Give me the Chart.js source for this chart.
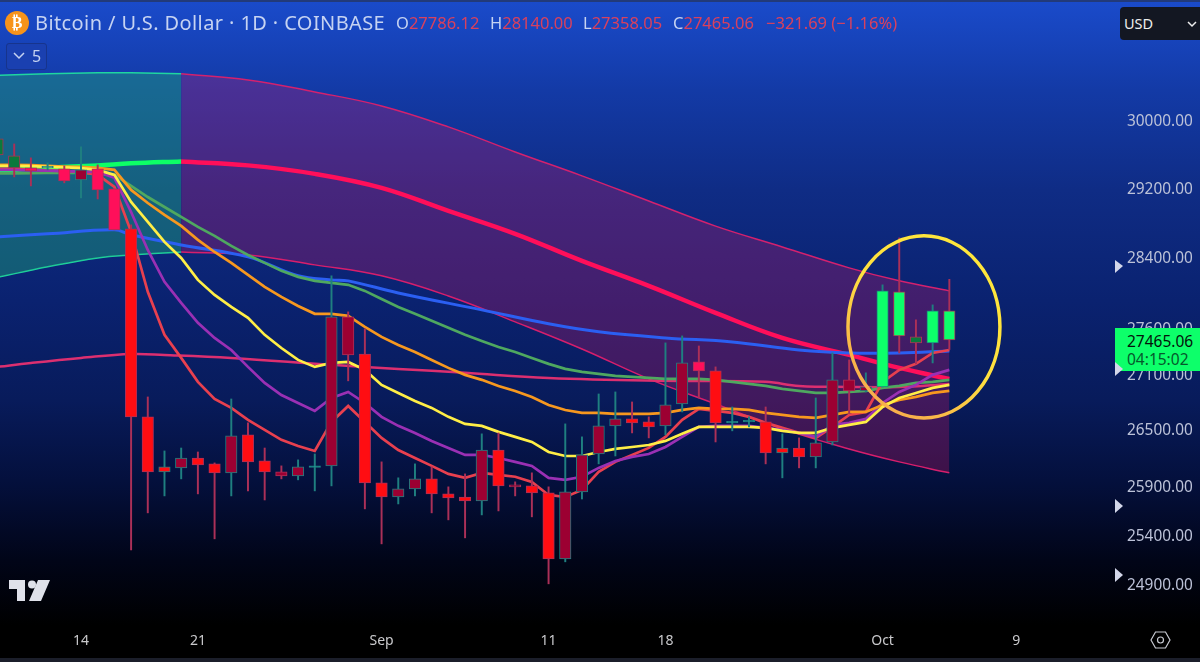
<!DOCTYPE html>
<html>
<head>
<meta charset="utf-8">
<script src="https://cdn.jsdelivr.net/npm/chart.js@4"></script>
<style>
  html, body { margin: 0; padding: 0; }
  body { width: 1200px; height: 662px; overflow: hidden; position: relative; font-family: 'Noto Sans', sans-serif;
    background: linear-gradient(180deg, #1a4bcb 0px, #133aa6 90px, #0f2c85 190px, #0a2270 300px, #081b5b 400px, #04103d 480px, #010518 560px, #000 625px); }
  canvas { position: absolute; left: 0; top: 0; }
  .txt { position: absolute; white-space: nowrap; }
  #topline { position: absolute; left: 0; top: 0; width: 1200px; height: 2px; background: #223a7a; }
  #botline { position: absolute; left: 0; top: 658px; width: 1200px; height: 4px; background: #1b1e2a; }
  #btc { position: absolute; left: 5px; top: 11px; width: 24px; height: 24px; border-radius: 50%; background: #f7931a; color: #fff; font: bold 16px/24px 'DejaVu Sans'; text-align: center; }
  #title { left: 35px; top: 9px; font-size: 20px; color: #c6d3f2; line-height: 28px; letter-spacing: .4px; }
  .ohlc { top: 11px; font-size: 16.5px; line-height: 24px; color: #d9415e; }
  .ohlc b { font-weight: 400; color: #c6d3f2; }
  #chip { position: absolute; left: 6px; top: 43px; width: 39px; height: 25px; background: #1a40b0; border: 1px solid #17348c; border-radius: 3px; }
  #chip span { position: absolute; left: 25px; top: 0; font-size: 16px; line-height: 25px; color: #c6d3f2; }
  #usd { position: absolute; left: 1120px; top: 7px; width: 80px; height: 33px; background: #131722; border-radius: 4px 0 0 4px; color: #eee; font-size: 14.5px; line-height: 33px; text-indent: 4px; }
  #tag { position: absolute; left: 1115px; top: 328px; width: 85px; height: 43px; background: #0dff6a; }
  #tag div { position: absolute; left: 12px; font-size: 15.5px; line-height: 18px; }
  svg { position: absolute; left: 0; top: 0; }
</style>
</head>
<body>
<canvas id="chart" width="1200" height="662"></canvas>
<div id="topline"></div><div id="botline"></div>
<div id="btc">₿</div>
<div class="txt" id="title">Bitcoin / U.S. Dollar · 1D · COINBASE</div>
<div class="txt ohlc" style="left:396px"><b>O</b>27786.12</div>
<div class="txt ohlc" style="left:490px"><b>H</b>28140.00</div>
<div class="txt ohlc" style="left:583px"><b>L</b>27358.05</div>
<div class="txt ohlc" style="left:673px"><b>C</b>27465.06</div>
<div class="txt ohlc" style="left:766px">−321.69 (−1.16%)</div>
<div id="chip"><span>5</span></div>
<div id="usd">USD</div>
<div id="tag"><div style="top:4px;color:#04140a">27465.06</div><div style="top:22px;color:#06592c">04:15:02</div></div>
<svg width="1200" height="662">
  <polyline points="14,53 19,58 24,53" fill="none" stroke="#c6d3f2" stroke-width="1.5"/>
  <polyline points="1188,22 1192,26 1196,22" fill="none" stroke="#eee" stroke-width="1.5"/>
  <polygon points="1115,260 1123,266 1115,273" fill="#d3d7ea"/>
  <polygon points="1115,362 1123,369 1115,376" fill="#d3d7ea"/>
  <polygon points="1115,499 1123,506 1115,513" fill="#d3d7ea"/>
  <polygon points="1115,568 1123,575 1115,582" fill="#d3d7ea"/>
  <path d="M9 580H25V601H17V589H9Z M38 580H50L41 601H29Z" fill="#dfe1ea"/>
  <circle cx="32" cy="584.5" r="4" fill="#dfe1ea"/>
  <polygon points="1151,640 1155.5,632 1165.5,632 1170,640 1165.5,648 1155.5,648" fill="none" stroke="#c8cad2" stroke-width="1.2"/>
  <circle cx="1160.5" cy="640" r="3" fill="none" stroke="#c8cad2" stroke-width="1.2"/>
</svg>
<script>
const days = [9,10,11,12,13,14,15,16,17,18,19,20,21,22,23,24,25,26,27,28,29,30,31,32,33,34,35,36,37,38,39,40,41,42,43,44,45,46,47,48,49,50,51,52,53,54,55,56,57,58,59,60,61,62,63,64,65,66];

const opens = [29773,29570,29429,29429,29417,29287,29417,29181,28716,26628,26046,26088,26192,26130,26036,26436,26161,26046,26005,26094,26109,27719,27309,25932,25785,25869,25973,25817,25785,25744,26276,25911,25900,25827,25152,25838,26234,26532,26607,26574,26532,26766,27222,27125,26564,26574,26574,26245,26297,26203,26361,27027,26907,26950,27999,27497,27431,27786];
const highs = [29800,29713,29547,29488,29452,29677,29464,29181,28762,26842,26266,26297,26255,26140,26820,26564,26297,26109,26172,26234,28180,27775,27586,26151,25984,26130,26099,25890,26025,26447,26457,25942,26036,25890,26553,26415,26874,26896,26788,26628,27431,27508,27397,27168,26734,26628,26734,26447,26404,26831,27320,27244,27103,28078,28612,27686,27853,28140];
const lows = [29500,29322,29216,29405,29252,29075,29063,28705,25242,25621,25796,25973,25817,25355,25796,25848,25754,25973,25963,25848,25900,27016,25662,25304,25713,25796,25621,25549,25365,25600,25641,25796,25580,24901,25122,25764,26130,26213,26457,26404,26436,26681,26831,26361,26479,26521,26130,25984,26088,26088,26329,26670,26896,26950,27320,27201,27211,27358];
const closes = [29582,29429,29393,29440,29275,29405,29169,28705,26628,26046,26099,26192,26120,26036,26425,26151,26046,26005,26099,26099,27719,27299,25932,25785,25869,25973,25817,25775,25744,26276,25900,25890,25827,25152,25838,26224,26532,26607,26564,26521,26756,27211,27125,26564,26574,26580,26245,26297,26203,26351,27027,26907,26950,28010,27508,27431,27786,27465];
const bodyTones = ['dark','dark','pink','teal','pink','wine','pink','pink','red','red','red','wine','red','red','wine','red','red','wine','wine','teal','wine','wine','red','red','wine','wine','red','red','red','wine','red','wine','red','red','wine','wine','wine','wine','red','red','wine','wine','pink','red','teal','teal','red','red','red','wine','wine','wine','wine','green','green','dark','green','green'];

const redMa = [29417,29417,29410,29400,29390,29381,29346,29204,28682,27999,27520,27266,27005,26820,26724,26596,26489,26383,26319,26266,26574,26745,26574,26404,26276,26192,26109,26025,25984,26036,26015,25995,25942,25806,25785,25858,26046,26151,26224,26298,26415,26596,26713,26692,26670,26628,26564,26511,26457,26404,26521,26649,26681,27005,27135,27201,27320,27353];
const purpleMa = [29405,29405,29400,29395,29390,29385,29381,29311,28912,28474,28112,27875,27653,27486,27353,27168,26994,26863,26777,26692,26831,26896,26777,26628,26532,26457,26372,26298,26224,26224,26192,26151,26109,25984,25963,25995,26088,26161,26203,26234,26308,26415,26521,26532,26532,26532,26511,26489,26457,26415,26542,26564,26606,26777,26896,26972,27081,27135];
const yellowMa = [29452,29452,29448,29440,29435,29425,29405,29346,29028,28797,28566,28383,28134,27965,27830,27708,27520,27375,27244,27168,27211,27222,27135,26972,26885,26798,26724,26628,26553,26532,26468,26415,26361,26255,26213,26213,26255,26287,26308,26329,26372,26447,26521,26521,26521,26521,26511,26479,26457,26457,26511,26542,26574,26734,26831,26885,26940,26972];
const orangeMa = [29464,29464,29460,29452,29445,29440,29429,29405,29169,29016,28878,28751,28590,28451,28327,28191,28055,27942,27841,27753,27753,27730,27608,27497,27408,27331,27244,27157,27081,27027,26961,26907,26842,26756,26702,26670,26670,26660,26660,26660,26670,26702,26724,26713,26713,26702,26670,26649,26628,26617,26649,26681,26681,26756,26809,26842,26885,26907];
const greenMa = [29364,29364,29366,29368,29370,29370,29358,29346,29216,29086,28970,28855,28740,28636,28520,28417,28327,28236,28168,28123,28100,28078,28010,27919,27830,27753,27675,27597,27520,27453,27386,27331,27266,27201,27146,27114,27092,27070,27059,27048,27037,27037,27037,27027,27005,26983,26961,26929,26907,26885,26885,26896,26907,26940,26961,26994,27005,27027];

const blueDays = [9,12,16,17,20,24,27,29,30,33,38,42,45,49,53,57,60,63,66];
const blueMa = [28624,28659,28705,28648,28532,28395,28180,28134,28123,27987,27797,27642,27553,27486,27442,27353,27320,27320,27342];
const slowDays = [9,11,14,17,19,23,29,33,37,42,49,55,57,60,63,66];
const slowMa = [27168,27211,27266,27309,27299,27266,27190,27146,27103,27048,27016,27005,26961,26950,26950,26983];

const bandDays = [9,12,15,17,20,24,28,32,36,40,44,48,52,56,60,63,66];
const upperBand = [30542,30561,30573,30573,30561,30487,30340,30170,29917,29617,29334,29039,28748,28509,28270,28123,28010];
const midBand = [29393,29429,29458,29482,29505,29458,29358,29193,28924,28659,28349,28067,27764,27486,27299,27157,27037];
const lowerBand = [28163,28282,28383,28417,28451,28417,28304,28180,27953,27664,27364,27037,26766,26500,26287,26151,26036];
const bandFlipDay = 20;

const priceTicks = [30000,29200,28400,27600,27100,26500,25900,25400,24900];
const dayTicks = [14,21,32,42,49,62,70];
const dayLabels = ['14','21','Sep','11','18','Oct','9'];

const ringDays = [59.93,69.03];
const ringPrices = [26617,28636];

const toneColors = { red: '#ff0d12', wine: '#9c0032', pink: '#ff0f5a', dark: '#0a7a3c', green: '#0dff6a', teal: '#1f9a90' };
const upWick = '#1f7f80', downWick = '#ab3058';

const pts = (xs, ys) => xs.map((x, i) => ({ x, y: ys[i] }));
const flip = bandDays.indexOf(bandFlipDay);
const before = a => a.slice(0, flip + 1);
const after = a => a.slice(flip);

let order = 40;
function line(xs, ys, color, width, extra) {
  return Object.assign({ type: 'line', data: pts(xs, ys), borderColor: color, borderWidth: width, pointRadius: 0, tension: 0, fill: false, order: order-- }, extra);
}
const smooth = { tension: 0.4 };

const tealFill = 'rgba(30,170,120,0.42)', pinkFill = 'rgba(235,20,100,0.25)';

const datasets = [
  line(before(bandDays), before(lowerBand), '#1fd6a0', 1.5, smooth),
  line(before(bandDays), before(upperBand), '#1fd6a0', 1.5, { ...smooth, fill: '-1', backgroundColor: tealFill }),
  line(after(bandDays), after(lowerBand), '#d4216e', 1.5, smooth),
  line(after(bandDays), after(upperBand), '#d4216e', 1.5, { ...smooth, fill: '-1', backgroundColor: pinkFill }),
  line(slowDays, slowMa, '#dc2f70', 2.5, smooth),
  line(before(bandDays), before(midBand), '#0dff66', 4.5, smooth),
  line(after(bandDays), after(midBand), '#ff0f5a', 4.5, smooth),
  line(blueDays, blueMa, '#2b5ff2', 3, smooth),
  line(days, greenMa, '#4fa860', 2.7),
  line(days, redMa, '#e8404f', 2.7),
  line(days, purpleMa, '#9a30b4', 2.7),
  line(days, orangeMa, '#f7981f', 2.7),
  line(days, yellowMa, '#ffee46', 2.7),
  {
    type: 'bar', order: 2, grouped: false, barThickness: 1.3,
    data: days.map((d, i) => ({ x: d, y: [lows[i], highs[i]] })),
    backgroundColor: days.map((d, i) => closes[i] >= opens[i] ? upWick : downWick),
    borderWidth: 0
  },
  {
    type: 'bar', order: 1, grouped: false, barThickness: 11.5, minBarLength: 1.5,
    data: days.map((d, i) => ({ x: d, y: [opens[i], closes[i]] })),
    backgroundColor: bodyTones.map(t => toneColors[t]),
    borderColor: days.map((d, i) => closes[i] >= opens[i] ? upWick : downWick),
    borderWidth: 1, borderSkipped: false
  }
];

const ringPlugin = {
  id: 'ring',
  afterDatasetsDraw(chart) {
    const { ctx, scales: { x, y } } = chart;
    const left = x.getPixelForValue(ringDays[0]), right = x.getPixelForValue(ringDays[1]);
    const bottom = y.getPixelForValue(ringPrices[0]), top = y.getPixelForValue(ringPrices[1]);
    const g = ctx.createLinearGradient(right, top, left, bottom);
    g.addColorStop(0, '#ffe93a');
    g.addColorStop(0.5, '#ffe03f');
    g.addColorStop(0.8, '#f8b24a');
    g.addColorStop(1, '#f5a94e');
    ctx.save();
    ctx.strokeStyle = g;
    ctx.lineWidth = 3.5;
    ctx.beginPath();
    ctx.ellipse((left + right) / 2, (top + bottom) / 2, (right - left) / 2, (bottom - top) / 2, 0, 0, Math.PI * 2);
    ctx.stroke();
    ctx.restore();
  }
};

function noPadding(s) {
  s.paddingTop = s.paddingBottom = s.paddingLeft = s.paddingRight = 0;
}

new Chart(document.getElementById('chart').getContext('2d'), {
  type: 'bar',
  data: { datasets },
  plugins: [ringPlugin],
  options: {
    responsive: false, animation: false, devicePixelRatio: 1,
    layout: { padding: 0, autoPadding: false },
    plugins: { legend: { display: false }, tooltip: { enabled: false } },
    scales: {
      x: {
        type: 'linear', offset: false, min: 9.15, max: 75.92,
        grid: { display: false, drawTicks: false }, border: { display: false },
        afterBuildTicks: s => { s.ticks = dayTicks.map(v => ({ value: v })); },
        afterFit: s => { s.height = 35; noPadding(s); },
        ticks: { autoSkip: false, maxRotation: 0, padding: 6, color: '#c9c9cc', font: { family: 'Noto Sans', size: 14 },
          callback: v => dayLabels[dayTicks.indexOf(v)] }
      },
      y: {
        type: 'logarithmic', position: 'right', min: 24473, max: 31481,
        grid: { display: false, drawTicks: false }, border: { display: false },
        afterBuildTicks: s => { s.ticks = priceTicks.map(v => ({ value: v })); },
        afterFit: s => { s.width = 85; noPadding(s); },
        ticks: { autoSkip: false, crossAlign: 'near', padding: 12, labelOffset: 2, color: '#bcc2d8', font: { family: 'Noto Sans', size: 15.4 },
          callback: v => v.toFixed(2) }
      }
    }
  }
});
</script>
</body>
</html>
